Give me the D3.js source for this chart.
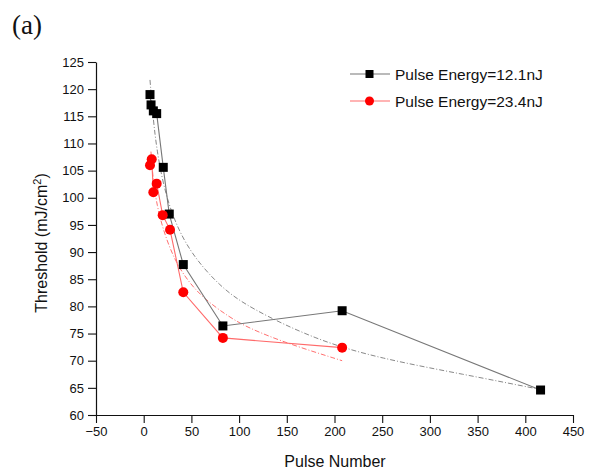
<!DOCTYPE html>
<html>
<head>
<meta charset="utf-8">
<script src="https://cdn.jsdelivr.net/npm/d3@7"></script>
<style>
  html, body { margin: 0; padding: 0; background: #fff; }
  svg { display: block; }
  text { font-family: Arimo, "Liberation Sans", Arial, sans-serif; fill: #111; }
</style>
</head>
<body>
<svg id="chart" width="593" height="470"></svg>
<script>
// Measured threshold vs. pulse number for two pulse energies
const pulses12 = [6.6, 7.7, 10.1, 13.6, 20.5, 26.8, 41.5, 83, 208, 416];
const thresh12 = [119.0, 117.1, 116.0, 115.5, 105.6, 97.0, 87.7, 76.4, 79.2, 64.6];

const pulses23 = [6.6, 8.4, 10.1, 13.6, 19.9, 27.6, 41.5, 83, 208];
const thresh23 = [106.0, 107.1, 101.0, 102.6, 96.8, 94.1, 82.6, 74.2, 72.4];

// Fitted trend curves (sampled along the plotted fit lines)
const fit12X = [6.6, 10, 14, 20, 30, 48, 80, 111, 181, 248, 335, 416];
const fit12Y = [121.7, 114.3, 108.6, 102.8, 96.6, 90.0, 83.6, 79.7, 73.8, 70.4, 67.5, 64.7];

const fit23X = [7.6, 10, 14, 20, 30, 41.5, 60, 90.5, 111.4, 150, 208];
const fit23Y = [108.5, 102.9, 98.6, 94.3, 89.5, 85.8, 81.8, 77.9, 75.9, 73.2, 70.0];

const seriesNames = ["Pulse Energy=12.1nJ", "Pulse Energy=23.4nJ"];
const xTicks = [-50, 0, 50, 100, 150, 200, 250, 300, 350, 400, 450];
const yTicks = [60, 65, 70, 75, 80, 85, 90, 95, 100, 105, 110, 115, 120, 125];

const svg = d3.select("#chart");

const x = d3.scaleLinear().domain([-50, 450]).range([96, 573]);
const y = d3.scaleLinear().domain([60, 125]).range([415, 62]);

// minor ticks
const xMinor = d3.range(-25, 450, 50);
const yMinor = d3.range(62.5, 125, 5);

const gx = svg.append("g").attr("transform", "translate(0,415)");
gx.call(d3.axisBottom(x).tickValues(xMinor).tickSize(5).tickFormat(""));
gx.call(d3.axisBottom(x).tickValues(xTicks).tickSize(8).tickSizeOuter(0).tickPadding(4).tickFormat(d3.format("d")));

const gy = svg.append("g").attr("transform", "translate(96,0)");
gy.call(d3.axisLeft(y).tickValues(yMinor).tickSize(5).tickFormat(""));
gy.call(d3.axisLeft(y).tickValues(yTicks).tickSize(8).tickSizeOuter(0).tickPadding(4).tickFormat(d3.format("d")));

svg.selectAll(".domain").attr("stroke", "#111").attr("stroke-width", 1.2);
svg.selectAll(".tick line").attr("stroke", "#111").attr("stroke-width", 1.1);
svg.selectAll(".tick text")
  .style("font-family", 'Arimo, "Liberation Sans", Arial, sans-serif')
  .style("font-size", "13px").attr("fill", "#111");

// axis titles
svg.append("text").attr("x", 335).attr("y", 467).attr("text-anchor", "middle")
  .style("font-size", "16px").text("Pulse Number");

const yl = svg.append("text").attr("transform", "translate(47,243) rotate(-90)")
  .attr("text-anchor", "middle").style("font-size", "16px");
yl.append("tspan").text("Threshold (mJ/cm");
yl.append("tspan").attr("dy", -6).style("font-size", "11px").text("2");
yl.append("tspan").attr("dy", 6).text(")");

// panel label
svg.append("text").attr("x", 12).attr("y", 34)
  .style("font-family", '"Liberation Serif", "Times New Roman", serif')
  .style("font-size", "27px").text("(a)");

const line = d3.line().x(d => x(d[0])).y(d => y(d[1]));
const smooth = d3.line().x(d => x(d[0])).y(d => y(d[1])).curve(d3.curveBasis);

const d12 = pulses12.map((p, i) => [p, thresh12[i]]);
const d23 = pulses23.map((p, i) => [p, thresh23[i]]);
const f12 = fit12X.map((p, i) => [p, fit12Y[i]]);
const f23 = fit23X.map((p, i) => [p, fit23Y[i]]);

// fit curves (dash-dot)
svg.append("path").datum(f12).attr("d", smooth).attr("fill", "none")
  .attr("stroke", "#888").attr("stroke-width", 1).attr("stroke-dasharray", "5,2,1,2");
svg.append("path").datum(f23).attr("d", smooth).attr("fill", "none")
  .attr("stroke", "#ff7070").attr("stroke-width", 1).attr("stroke-dasharray", "5,2,1,2");

// connecting lines
svg.append("path").datum(d12).attr("d", line).attr("fill", "none")
  .attr("stroke", "#777").attr("stroke-width", 1.1);
svg.append("path").datum(d23).attr("d", line).attr("fill", "none")
  .attr("stroke", "#ff6a6a").attr("stroke-width", 1.1);

// markers
svg.append("g").selectAll("rect").data(d12).join("rect")
  .attr("x", d => x(d[0]) - 4.5).attr("y", d => y(d[1]) - 4.5)
  .attr("width", 9).attr("height", 9).attr("fill", "#000");
svg.append("g").selectAll("circle").data(d23).join("circle")
  .attr("cx", d => x(d[0])).attr("cy", d => y(d[1])).attr("r", 5)
  .attr("fill", "#ff0000");

// legend
const lg = svg.append("g");
const legendY = [74, 101];
lg.append("line").attr("x1", 350).attr("x2", 390).attr("y1", legendY[0]).attr("y2", legendY[0])
  .attr("stroke", "#777").attr("stroke-width", 1.1);
lg.append("rect").attr("x", 365.5).attr("y", legendY[0] - 4).attr("width", 8).attr("height", 8).attr("fill", "#000");
lg.append("line").attr("x1", 350).attr("x2", 390).attr("y1", legendY[1]).attr("y2", legendY[1])
  .attr("stroke", "#ff6a6a").attr("stroke-width", 1.1);
lg.append("circle").attr("cx", 369.5).attr("cy", legendY[1]).attr("r", 4.5).attr("fill", "#ff0000");
seriesNames.forEach((n, i) => {
  lg.append("text").attr("x", 395).attr("y", legendY[i] + 5.5)
    .style("font-size", "15.5px").text(n);
});
</script>
</body>
</html>
